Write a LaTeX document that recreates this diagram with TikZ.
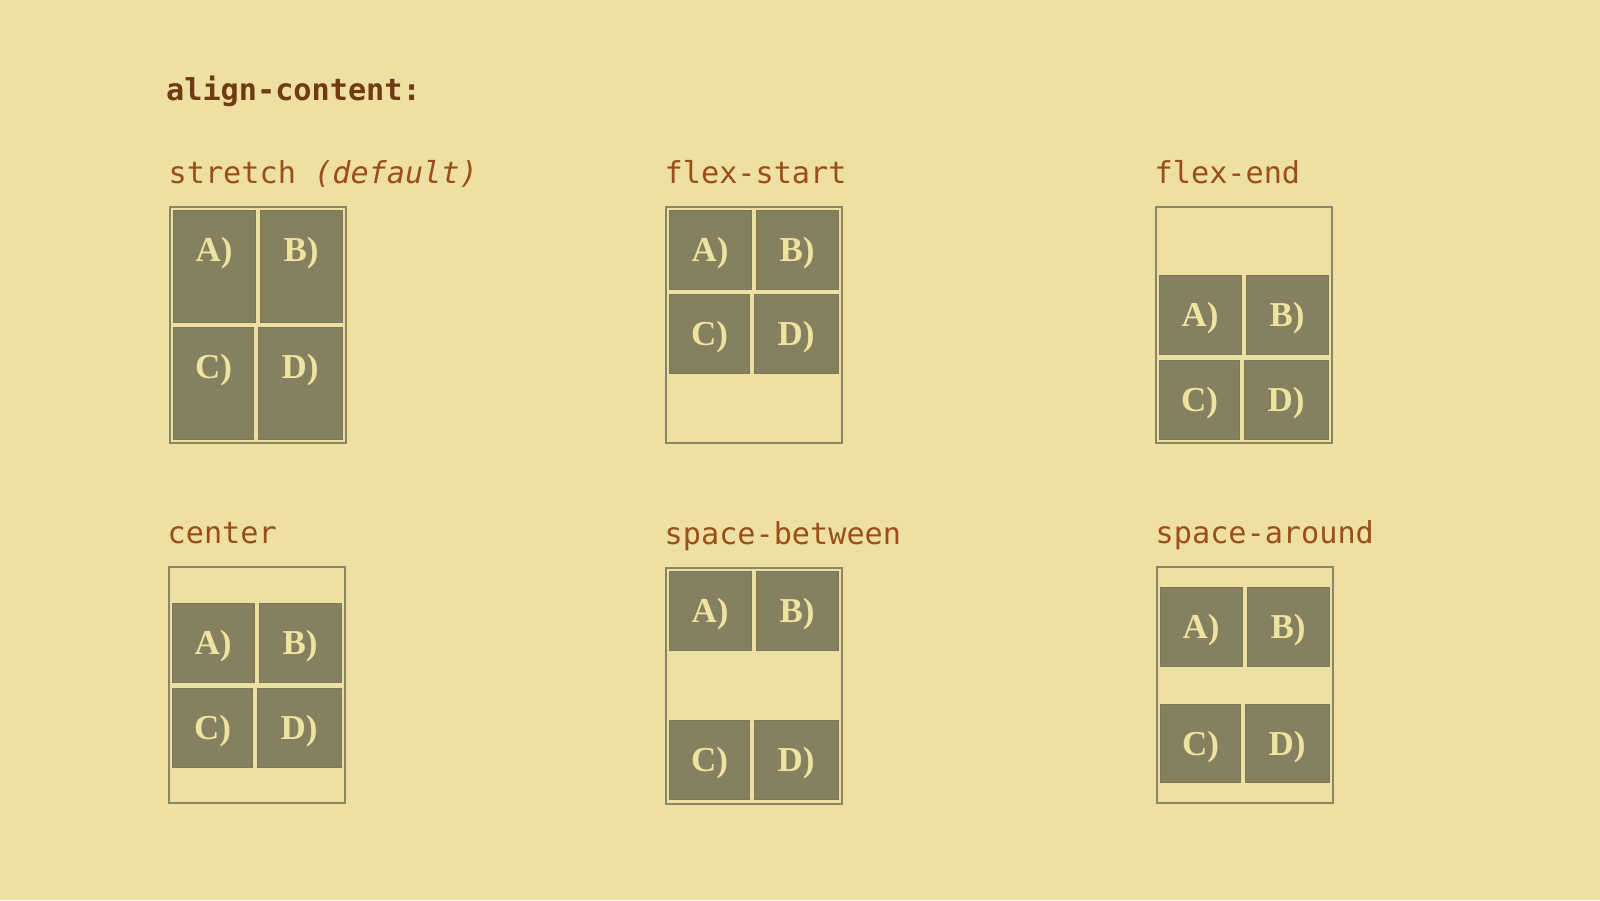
\documentclass[tikz,border=0pt]{standalone}
\usepackage{fontspec}
\setmainfont{Liberation Serif}
\setmonofont{DejaVu Sans Mono}
\definecolor{bgyellow}{HTML}{EDE0A2}
\definecolor{boxline}{HTML}{8A8668}
\definecolor{itemfill}{HTML}{85805F}
\definecolor{itemline}{HTML}{7C7757}
\definecolor{itemtxt}{HTML}{EEE3A0}
\definecolor{headbrown}{HTML}{6E3B12}
\definecolor{titlebrown}{HTML}{9C4E1A}

\begin{document}
\begin{tikzpicture}[x=1pt,y=-1pt,
    panel/.style={draw=boxline, line width=1.6pt},
    item/.style={fill=itemfill, draw=itemline, line width=0.8pt},
    itemlabel/.style={font=\fontsize{35}{38}\selectfont\bfseries, text=itemtxt, anchor=base, inner sep=0pt},
    title/.style={font=\fontsize{30.2}{34}\selectfont\ttfamily, text=titlebrown, anchor=base west, inner sep=0pt}]
    % Background and page size
    \fill[bgyellow] (0,0) rectangle (1600,900);
    \useasboundingbox (0,0) rectangle (1600,900);

    % Heading
    \node[title, text=headbrown, font=\fontsize{30.2}{34}\selectfont\ttfamily\bfseries] (heading) at (166,100) {align-content:};

    % One panel per value: name/x/y/row 1 top/row 1 bottom/row 2 top/row 2 bottom/title
    \foreach \p/\x/\y/\ra/\rb/\rc/\rd/\txt in {
        stretch/170/207/3/115/120/232/{stretch \textit{(default)}},
        flexstart/666/207/3/82/87/166/{flex-start},
        flexend/1156/207/68/147/153/232/{flex-end},
        center/169/567/36/115/121/200/{center},
        between/666/568/3/82/152/231/{space-between},
        around/1157/567/20/99/137/215/{space-around}} {
        % Container
        \draw[panel] (\x,\y) rectangle ++(176,236);
        \node[title] (\p-title) at (\x-1.5,\y-24) {\txt};
        % Flex items
        \draw[item] (\x+3.5,\y+\ra) rectangle (\x+85,\y+\rb);
        \draw[item] (\x+90,\y+\ra) rectangle (\x+172,\y+\rb);
        \draw[item] (\x+3.5,\y+\rc) rectangle (\x+83.5,\y+\rd);
        \draw[item] (\x+88.5,\y+\rc) rectangle (\x+172,\y+\rd);
        \node[itemlabel] (\p-A) at (\x+44,\y+\ra+51) {A)};
        \node[itemlabel] (\p-B) at (\x+131,\y+\ra+51) {B)};
        \node[itemlabel] (\p-C) at (\x+43.5,\y+\rc+51) {C)};
        \node[itemlabel] (\p-D) at (\x+130,\y+\rc+51) {D)};
    }
\end{tikzpicture}
\end{document}
